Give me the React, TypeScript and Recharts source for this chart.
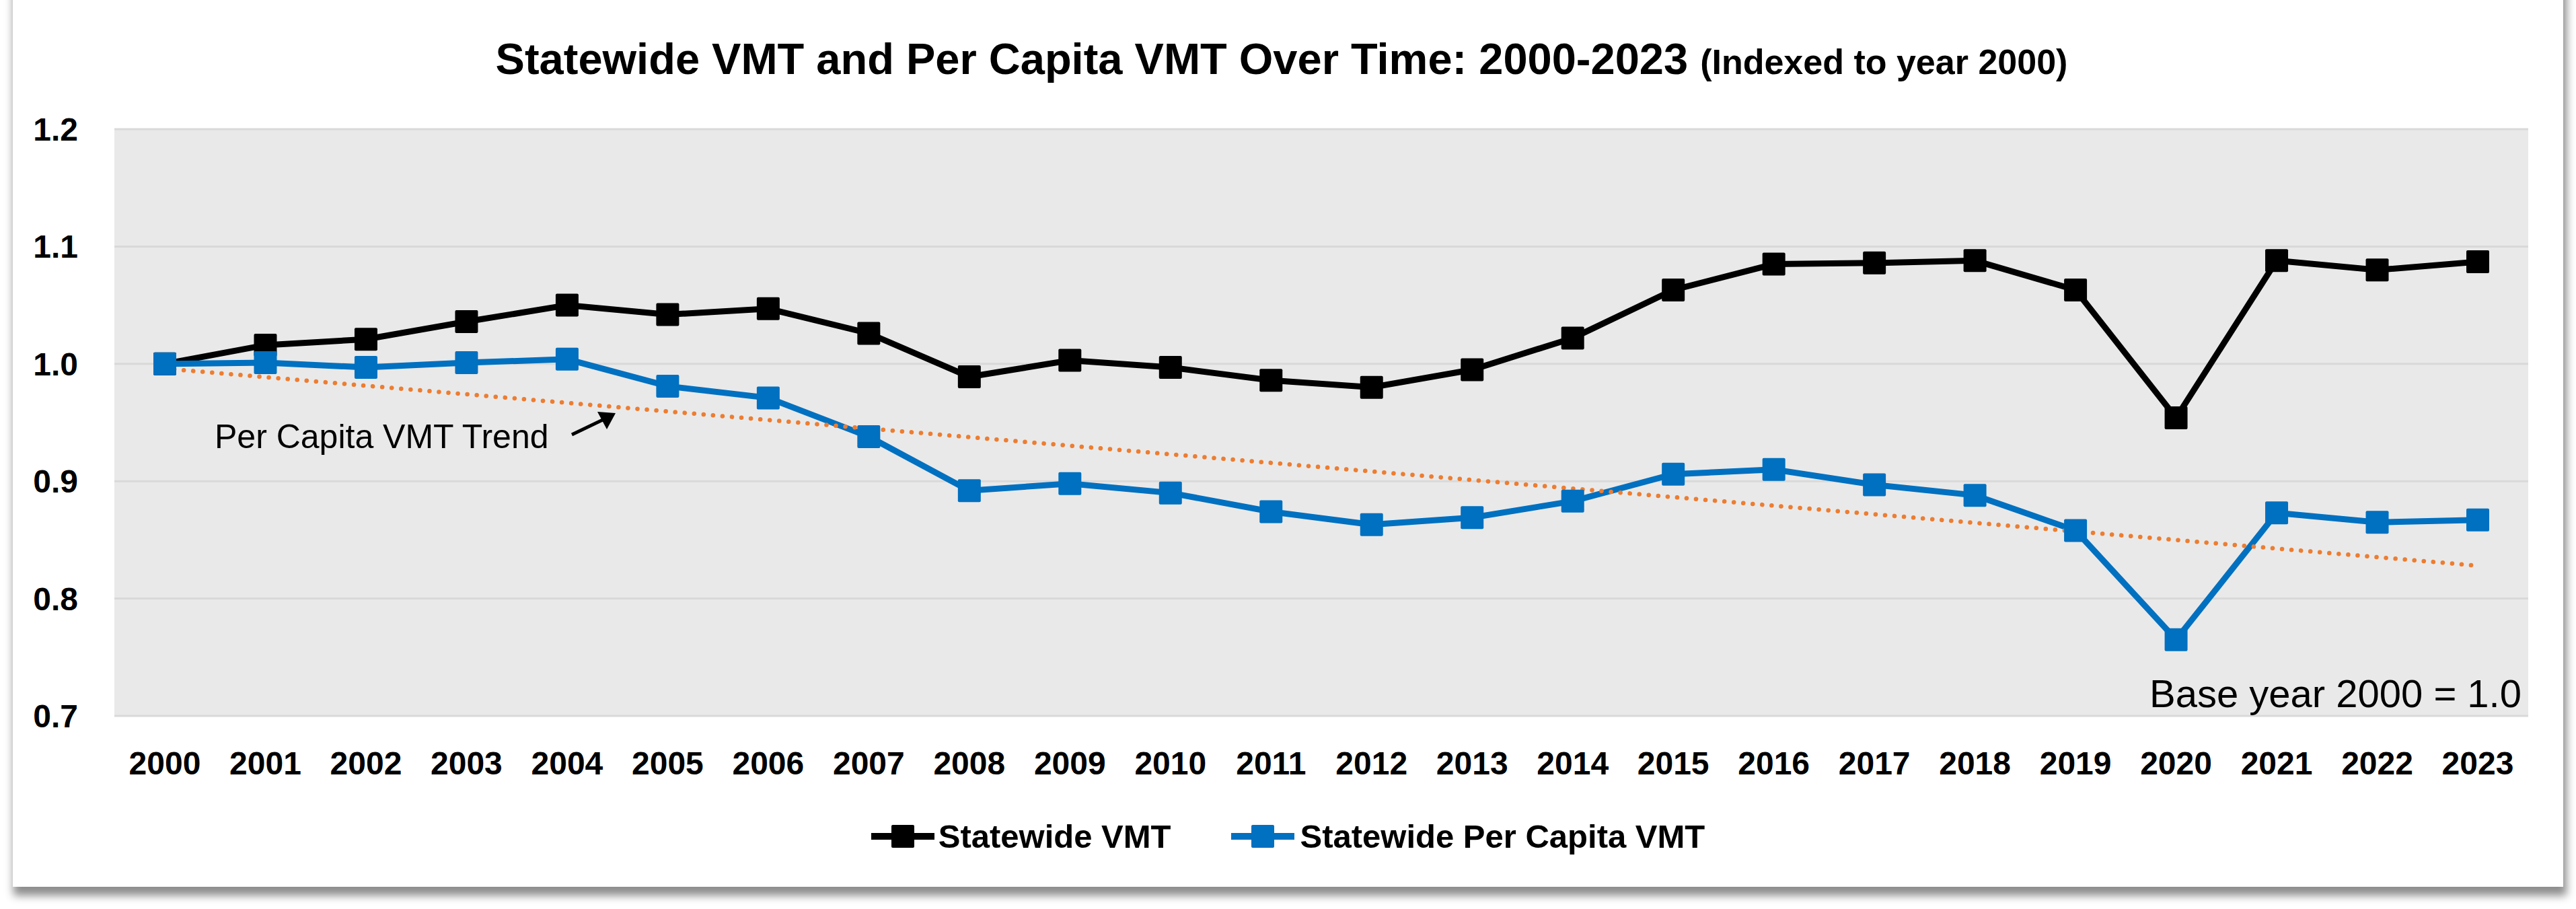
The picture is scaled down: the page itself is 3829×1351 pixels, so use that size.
import React from 'react';
import { LineChart, Line, XAxis, YAxis, CartesianGrid } from 'recharts';

const years = ['2000','2001','2002','2003','2004','2005','2006','2007','2008','2009','2010','2011','2012','2013','2014','2015','2016','2017','2018','2019','2020','2021','2022','2023'];
const statewideVMT = [1.000, 1.016, 1.021, 1.036, 1.050, 1.042, 1.047, 1.026, 0.989, 1.003, 0.997, 0.986, 0.980, 0.995, 1.022, 1.063, 1.085, 1.086, 1.088, 1.063, 0.954, 1.088, 1.080, 1.087];
const perCapitaVMT = [1.000, 1.001, 0.997, 1.001, 1.004, 0.981, 0.971, 0.938, 0.892, 0.898, 0.890, 0.874, 0.863, 0.869, 0.883, 0.906, 0.910, 0.897, 0.888, 0.858, 0.765, 0.873, 0.865, 0.867];
const trendEndpoints = [0.996, 0.828];
const yTicks = [0.7, 0.8, 0.9, 1.0, 1.1, 1.2];

const seriesNames = ['Statewide VMT', 'Statewide Per Capita VMT'];
const seriesColors = ['#000000', '#0070C0'];
const trendColor = '#ED7D31';

const data = years.map((y, i) => ({
  year: y,
  vmt: statewideVMT[i],
  perCapita: perCapitaVMT[i],
  trend: i === 0 ? trendEndpoints[0] : i === years.length - 1 ? trendEndpoints[1] : null,
}));

const FONT = '"Liberation Sans", Arial, sans-serif';
const W = 3829;
const H = 1351;

const makeDot = (color: string) => (props: any) => {
  const { cx, cy, index } = props;
  if (cx == null || cy == null) return <g key={`d-${index}`} />;
  return <rect key={`d-${index}`} x={cx - 17} y={cy - 17} width={34} height={34} rx={2} fill={color} />;
};

const LegendIcon = ({ color }: { color: string }) => (
  <svg width={94} height={36} style={{ display: 'block' }}>
    <line x1={0} y1={18} x2={94} y2={18} stroke={color} strokeWidth={10} />
    <rect x={30} y={1} width={34} height={34} rx={2} fill={color} />
  </svg>
);

export default function App() {
  return (
    <div style={{ position: 'fixed', left: 0, top: 0, width: W, height: H, background: '#ffffff', overflow: 'hidden', fontFamily: FONT }}>
      <div style={{ position: 'absolute', left: 19, top: -30, width: 3791, height: 1348, background: '#ffffff', boxShadow: '3px 11px 12px 2px rgba(0,0,0,0.45)' }} />
      <div style={{ position: 'absolute', left: 0, top: 0 }}>
        <LineChart width={W} height={H} data={data} margin={{ top: 192, right: 71, bottom: 0, left: 0 }}>
          <CartesianGrid vertical={false} stroke="#D9D9D9" strokeWidth={3} fill="#E9E9E9" />
          <XAxis
            dataKey="year"
            height={287}
            axisLine={false}
            tickLine={false}
            tickSize={0}
            tickMargin={53}
            interval={0}
            padding={{ left: 75, right: 75 }}
            tick={{ fill: '#000', fontSize: 48, fontWeight: 'bold', fontFamily: FONT }}
          />
          <YAxis
            width={170}
            domain={[0.7, 1.2]}
            ticks={yTicks}
            axisLine={false}
            tickLine={false}
            tickSize={0}
            tickMargin={54}
            allowDataOverflow
            tickFormatter={(v: number) => v.toFixed(1)}
            tick={{ fill: '#000', fontSize: 48, fontWeight: 'bold', fontFamily: FONT }}
          />
          <Line dataKey="vmt" name={seriesNames[0]} type="linear" stroke={seriesColors[0]} strokeWidth={9} dot={makeDot(seriesColors[0])} activeDot={false} isAnimationActive={false} />
          <Line dataKey="perCapita" name={seriesNames[1]} type="linear" stroke={seriesColors[1]} strokeWidth={9} dot={makeDot(seriesColors[1])} activeDot={false} isAnimationActive={false} />
          <Line dataKey="trend" name="Per Capita VMT Trend" type="linear" stroke={trendColor} strokeWidth={6.5} strokeDasharray="0.1 14" strokeLinecap="round" connectNulls dot={false} activeDot={false} isAnimationActive={false} />
        </LineChart>
      </div>
      <svg width={W} height={H} style={{ position: 'absolute', left: 0, top: 0, pointerEvents: 'none' }}>
        <text x={1905} y={110} textAnchor="middle" fontFamily={FONT} fontWeight="bold" fill="#000">
          <tspan fontSize={65}>Statewide VMT and Per Capita VMT Over Time: 2000-2023 </tspan>
          <tspan fontSize={52}>(Indexed to year 2000)</tspan>
        </text>
        <text x={319} y={666} fontFamily={FONT} fontSize={50} fill="#000">Per Capita VMT Trend</text>
        <line x1={850} y1={646} x2={900} y2={622} stroke="#000" strokeWidth={5} />
        <polygon points="915,614 888,612 902,638" fill="#000" />
        <text x={3748} y={1051} textAnchor="end" fontFamily={FONT} fontSize={58} fill="#000">Base year 2000 = 1.0</text>
      </svg>
      <div style={{ position: 'absolute', left: 0, top: 1222, width: W, display: 'flex', justifyContent: 'center', alignItems: 'center' }}>
        <div style={{ display: 'flex', alignItems: 'center' }}>
          <LegendIcon color={seriesColors[0]} />
          <span style={{ marginLeft: 6, fontSize: 49, fontWeight: 'bold', color: '#000', lineHeight: '42px' }}>{seriesNames[0]}</span>
        </div>
        <div style={{ display: 'flex', alignItems: 'center', marginLeft: 89 }}>
          <LegendIcon color={seriesColors[1]} />
          <span style={{ marginLeft: 9, fontSize: 49, fontWeight: 'bold', color: '#000', lineHeight: '42px' }}>{seriesNames[1]}</span>
        </div>
      </div>
    </div>
  );
}
